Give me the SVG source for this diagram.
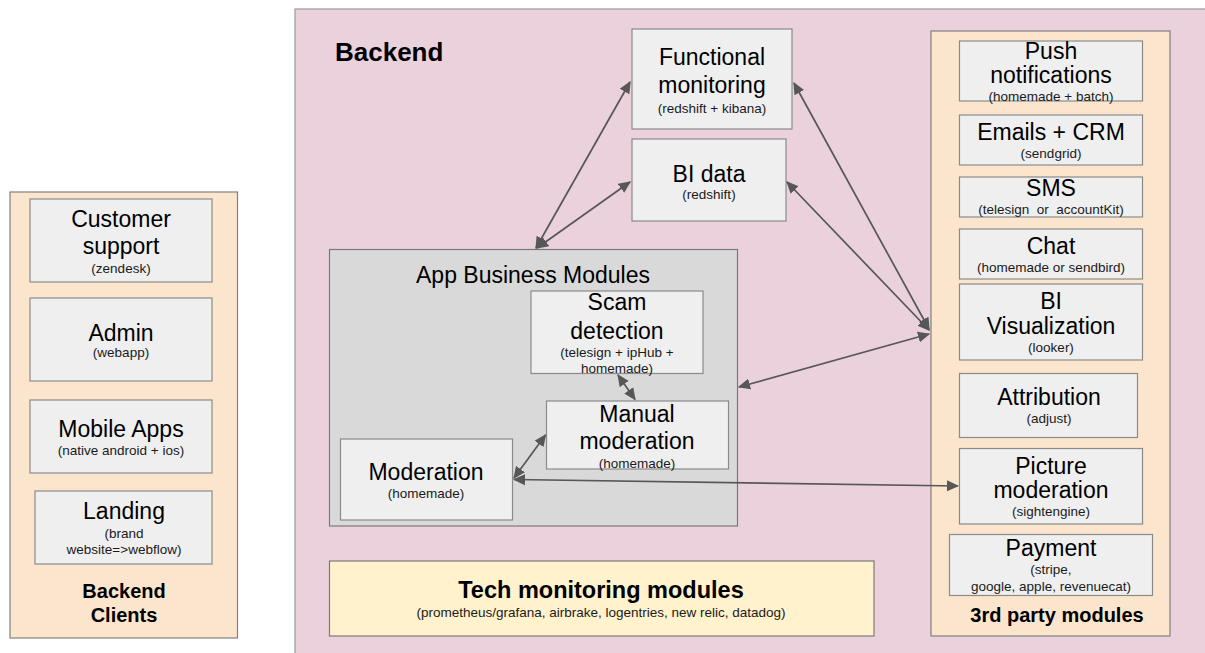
<svg xmlns="http://www.w3.org/2000/svg" width="1205" height="653" viewBox="0 0 1205 653">
<style>
  text { font-family: "Liberation Sans", Arial, sans-serif; fill: #000; text-anchor: middle; }
  .t { font-size: 23px; }
  .s { font-size: 13.5px; fill: #1a1a1a; }
  .b { font-weight: bold; }
  .box { fill: #efefef; stroke: #8a8a8a; stroke-width: 1.2; }
  .peach { fill: #fce5cd; stroke: #808080; stroke-width: 1.2; }
  .conn { stroke: #575757; stroke-width: 1.7; fill: none; marker-start: url(#ah); marker-end: url(#ah); }
</style>
<defs>
  <marker id="ah" viewBox="0 0 10 10" refX="9" refY="5" markerWidth="7.2" markerHeight="7.2" orient="auto-start-reverse" markerUnits="strokeWidth">
    <path d="M0,0.5 L10,5 L0,9.5 z" fill="#575757"/>
  </marker>
</defs>
<rect width="1205" height="653" fill="#ffffff"/>

<g id="backend-clients">
  <rect class="peach" x="10" y="192" width="227.5" height="446"/>
  <text class="b" x="124" y="598" font-size="20">Backend</text>
  <text class="b" x="124" y="622" font-size="20">Clients</text>
</g>
<g id="customer-support">
  <rect class="box" x="30" y="199" width="182" height="83"/>
  <text class="t" x="121" y="227">Customer</text>
  <text class="t" x="121" y="254">support</text>
  <text class="s" x="121" y="273">(zendesk)</text>
</g>
<g id="admin">
  <rect class="box" x="30" y="298" width="182" height="83"/>
  <text class="t" x="121" y="341">Admin</text>
  <text class="s" x="121" y="357">(webapp)</text>
</g>
<g id="mobile-apps">
  <rect class="box" x="30" y="400" width="182" height="73"/>
  <text class="t" x="121" y="437">Mobile Apps</text>
  <text class="s" x="121" y="455">(native android + ios)</text>
</g>
<g id="landing">
  <rect class="box" x="35" y="491" width="177" height="73"/>
  <text class="t" x="124" y="519">Landing</text>
  <text class="s" x="124" y="538">(brand</text>
  <text class="s" x="124" y="554">website=&gt;webflow)</text>
</g>

<g id="backend">
  <rect x="295" y="9" width="930" height="660" fill="#ead1dc" stroke="#999999" stroke-width="1.2"/>
  <text class="b" x="335" y="61" font-size="26" style="text-anchor:start">Backend</text>
</g>

<g id="functional-monitoring">
  <rect class="box" x="632" y="29" width="160" height="100"/>
  <text class="t" x="712" y="65">Functional</text>
  <text class="t" x="712" y="93">monitoring</text>
  <text class="s" x="712" y="113">(redshift + kibana)</text>
</g>
<g id="bi-data">
  <rect class="box" x="632" y="139" width="154" height="82"/>
  <text class="t" x="709" y="182">BI data</text>
  <text class="s" x="709" y="199">(redshift)</text>
</g>

<g id="app-business-modules">
  <rect x="329.5" y="249.5" width="408" height="276.5" fill="#d9d9d9" stroke="#7a7a7a" stroke-width="1.2"/>
  <text class="t" x="533" y="283">App Business Modules</text>
</g>
<g id="scam-detection">
  <rect class="box" x="531" y="291" width="172" height="82.5"/>
  <text class="t" x="617" y="310">Scam</text>
  <text class="t" x="617" y="339">detection</text>
  <text class="s" x="617" y="357">(telesign + ipHub +</text>
  <text class="s" x="617" y="373">homemade)</text>
</g>
<g id="manual-moderation">
  <rect class="box" x="546.5" y="401" width="182" height="68"/>
  <text class="t" x="637" y="422">Manual</text>
  <text class="t" x="637" y="449">moderation</text>
  <text class="s" x="637" y="468">(homemade)</text>
</g>
<g id="moderation">
  <rect class="box" x="340.5" y="439" width="172" height="81"/>
  <text class="t" x="426" y="480">Moderation</text>
  <text class="s" x="426" y="498">(homemade)</text>
</g>

<g id="tech-monitoring">
  <rect x="329.5" y="561" width="544.5" height="75" fill="#fff2cc" stroke="#7a7a7a" stroke-width="1.2"/>
  <text class="b" x="601" y="598" font-size="23.5">Tech monitoring modules</text>
  <text class="s" x="601" y="617">(prometheus/grafana, airbrake, logentries, new relic, datadog)</text>
</g>

<g id="third-party">
  <rect class="peach" x="931" y="31" width="239" height="605"/>
  <text class="b" x="1057" y="622" font-size="20">3rd party modules</text>
</g>
<g id="push-notifications">
  <rect class="box" x="959.5" y="41" width="183" height="60"/>
  <text class="t" x="1051" y="59">Push</text>
  <text class="t" x="1051" y="83">notifications</text>
  <text class="s" x="1051" y="100.5">(homemade + batch)</text>
</g>
<g id="emails-crm">
  <rect class="box" x="959.5" y="115" width="183" height="50"/>
  <text class="t" x="1051" y="139.5">Emails + CRM</text>
  <text class="s" x="1051" y="157.5">(sendgrid)</text>
</g>
<g id="sms">
  <rect class="box" x="959.5" y="177" width="183" height="40"/>
  <text class="t" x="1051" y="196">SMS</text>
  <text class="s" x="1051" y="214" xml:space="preserve" style="white-space:pre">(telesign  or  accountKit)</text>
</g>
<g id="chat">
  <rect class="box" x="959.5" y="229" width="183" height="50"/>
  <text class="t" x="1051" y="254">Chat</text>
  <text class="s" x="1051" y="272">(homemade or sendbird)</text>
</g>
<g id="bi-visualization">
  <rect class="box" x="959.5" y="284" width="183" height="76"/>
  <text class="t" x="1051" y="309">BI</text>
  <text class="t" x="1051" y="334">Visualization</text>
  <text class="s" x="1051" y="352">(looker)</text>
</g>
<g id="attribution">
  <rect class="box" x="959.5" y="373.5" width="178" height="64"/>
  <text class="t" x="1049" y="404.5">Attribution</text>
  <text class="s" x="1049" y="423">(adjust)</text>
</g>
<g id="picture-moderation">
  <rect class="box" x="959.5" y="448.5" width="183" height="75.5"/>
  <text class="t" x="1051" y="474">Picture</text>
  <text class="t" x="1051" y="498">moderation</text>
  <text class="s" x="1051" y="516">(sightengine)</text>
</g>
<g id="payment">
  <rect class="box" x="949.5" y="534.5" width="203" height="61"/>
  <text class="t" x="1051" y="556">Payment</text>
  <text class="s" x="1051" y="574">(stripe,</text>
  <text class="s" x="1051" y="590.5">google, apple, revenuecat)</text>
</g>

<g id="connectors">
  <line class="conn" x1="536" y1="248" x2="630" y2="82"/>
  <line class="conn" x1="537" y1="248" x2="630" y2="182"/>
  <line class="conn" x1="794" y1="83" x2="929" y2="329"/>
  <line class="conn" x1="787" y1="182" x2="929" y2="330"/>
  <line class="conn" x1="739" y1="387" x2="929" y2="334"/>
  <line class="conn" x1="618" y1="375" x2="635" y2="399.5"/>
  <line class="conn" x1="514" y1="478" x2="545.5" y2="435"/>
  <line class="conn" x1="514" y1="479.5" x2="958" y2="486"/>
</g>
</svg>
